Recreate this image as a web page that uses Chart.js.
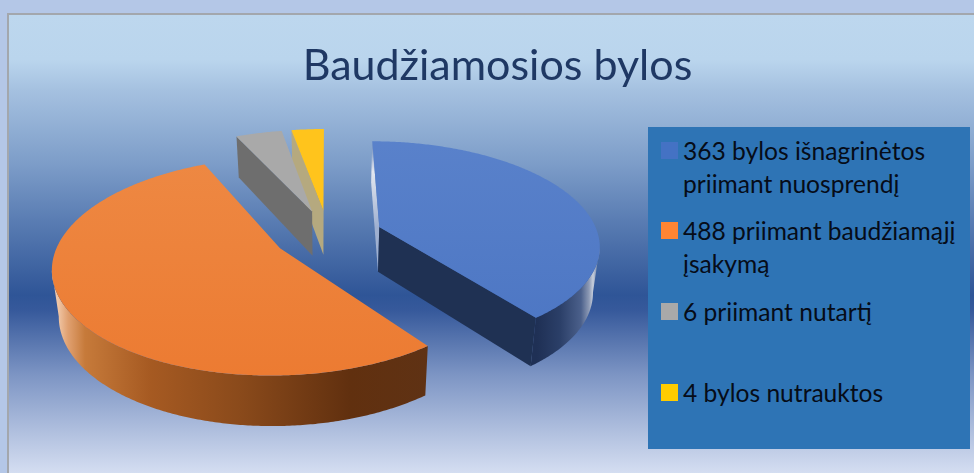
<!DOCTYPE html>
<html lang="lt">
<head>
<meta charset="utf-8">
<script src="https://cdn.jsdelivr.net/npm/chart.js@4"></script>
<style>
  html,body{margin:0;padding:0;width:974px;height:473px;overflow:hidden;background:#b4c7e7;}
  #panel{position:absolute;left:7px;top:13px;width:967px;height:460px;box-sizing:border-box;
    border-left:2px solid #a3a7ad;border-top:2px solid #a3a7ad;
    background:linear-gradient(180deg,#bdd7ee 0px,#bad5ed 45px,#a5c1e0 75px,#7c9cc8 150px,#5a7db3 205px,#2f5597 280px,#36599b 295px,#7d95c4 360px,#b3c2e0 420px,#d6dff2 460px);}
  canvas{position:absolute;left:0;top:0;}
  #legend{position:absolute;left:648px;top:127px;width:322px;height:322px;background:#2e74b5;
    font-family:Lato,"Open Sans",sans-serif;font-size:24.6px;line-height:32.5px;color:#060c18;}
  .row{position:absolute;left:35px;width:287px;}
  .sw{position:absolute;left:-22px;top:7px;width:17px;height:17px;}
</style>
</head>
<body>
<div id="panel"></div>
<canvas id="c" width="974" height="473"></canvas>
<div id="legend"></div>
<script>
const titleText = "Baudžiamosios bylos";
const categories = ["363 bylos išnagrinėtos priimant nuosprendį", "488 priimant baudžiamąjį įsakymą", "6 priimant nutartį", "4 bylos nutrauktos"];
const sliceValues = [363, 488, 37, 26];
const sliceColors = ["#4f79c6", "#ed8038", "#a9a9a9", "#ffc41c"];
const legendColors = ["#4472c4", "#ff8533", "#a9a9a9", "#ffcc00"];
const legendTops = [8, 88, 169, 250];
const explodePct = [25, 25, 25, 25];

const topShades = [["#5a82cb", "#4a74c2"], ["#ee8a45", "#ec7b32"], ["#a9a9a9", "#a9a9a9"], ["#ffc41c", "#ffc41c"]];
const wallStops = [
  [[537, "#1f3055"], [560, "#2b3f68"], [581, "#4b608b"], [589, "#8d9ab5"], [593, "#c6cedc"], [597, "#7c8fb0"]],
  [[58, "#f0c6a6"], [68, "#e0a070"], [85, "#c67a3a"], [150, "#a65a22"], [240, "#8a4a1b"], [350, "#61300f"], [429, "#5f3214"]],
  [[0, "#6e6e6e"], [974, "#6e6e6e"]],
  [[0, "#b5a97f"], [974, "#b5a97f"]]
];
const radialFaces = [
  {far: "#e4e8f0", near: "#1f3153"},
  {far: "#5f3214", near: "#5f3214"},
  {far: "#6e6e6e", near: "#6e6e6e"},
  {far: "#b5a97f", near: "#b5a97f"}
];

const cam = {x: 328, y: 235, a: 219, b: 101.9, k: 0.161};
function project(u, v, low) {
  const w = 1 - cam.k * v;
  let X = cam.a * u / w, Y = cam.y + cam.b * v / w;
  if (low) { X *= 0.975; Y += 20 + 25 / w; }
  return [cam.x + X, Y];
}

const pie3d = {
  id: "pie3d",
  beforeDatasetsDraw(chart) {
    const ctx = chart.ctx;
    const meta = chart.getDatasetMeta(0);
    const order = [3, 2, 0, 1];
    order.forEach(i => {
      const el = meta.data[i];
      const f = el.options.offset / 100;
      const s = el.startAngle, e = el.endAngle, mid = (s + e) / 2;
      const ox = Math.cos(mid) * f, oy = Math.sin(mid) * f;
      const rim = [];
      const n = Math.max(8, Math.ceil((e - s) / 0.01));
      for (let j = 0; j <= n; j++) {
        const t = s + (e - s) * j / n;
        rim.push([ox + Math.cos(t), oy + Math.sin(t)]);
      }
      const apex = [ox, oy];

      const face = (p, q) => {
        const a = project(p[0], p[1]), b = project(q[0], q[1]);
        if (b[0] >= a[0]) return;
        const a2 = project(p[0], p[1], true), b2 = project(q[0], q[1], true);
        const g = ctx.createLinearGradient(b[0], b[1], a[0], a[1]);
        if (i === 0 && q === rim[0]) {
          g.addColorStop(0, "#5f7fb5");
          g.addColorStop(0.35, radialFaces[i].far);
          g.addColorStop(1, "#9fb0d0");
        } else {
          g.addColorStop(0, radialFaces[i].near);
          g.addColorStop(1, radialFaces[i].near);
        }
        ctx.fillStyle = g;
        ctx.beginPath();
        ctx.moveTo(a[0], a[1]); ctx.lineTo(b[0], b[1]);
        ctx.lineTo(b2[0], b2[1]); ctx.lineTo(a2[0], a2[1]);
        ctx.closePath(); ctx.fill();
      };
      face(apex, rim[0]);
      face(rim[n], apex);

      const upper = [], lower = [];
      rim.forEach((p, j) => {
        if (j === n) return;
        const a = project(p[0], p[1]), b = project(rim[j + 1][0], rim[j + 1][1]);
        if (b[0] < a[0]) {
          if (!upper.length) { upper.push(a); lower.push(project(p[0], p[1], true)); }
          upper.push(b); lower.push(project(rim[j + 1][0], rim[j + 1][1], true));
        }
      });
      if (upper.length) {
        const st = wallStops[i], x0 = st[0][0], x1 = st[st.length - 1][0];
        const g = ctx.createLinearGradient(x0, 0, x1, 0);
        st.forEach(c => g.addColorStop((c[0] - x0) / (x1 - x0), c[1]));
        ctx.fillStyle = g;
        ctx.beginPath();
        upper.forEach((p, j) => j ? ctx.lineTo(p[0], p[1]) : ctx.moveTo(p[0], p[1]));
        lower.reverse().forEach(p => ctx.lineTo(p[0], p[1]));
        ctx.closePath(); ctx.fill();
      }

      const g = ctx.createLinearGradient(0, 130, 0, 375);
      g.addColorStop(0, topShades[i][0]);
      g.addColorStop(1, topShades[i][1]);
      ctx.fillStyle = g;
      ctx.beginPath();
      const A = project(apex[0], apex[1]);
      ctx.moveTo(A[0], A[1]);
      rim.forEach(p => { const q = project(p[0], p[1]); ctx.lineTo(q[0], q[1]); });
      ctx.closePath(); ctx.fill();
    });
    return false;
  }
};

new Chart(document.getElementById("c"), {
  type: "pie",
  data: {
    labels: categories,
    datasets: [{data: sliceValues, backgroundColor: sliceColors, offset: explodePct, borderWidth: 0}]
  },
  options: {
    responsive: false,
    animation: false,
    devicePixelRatio: 1,
    events: [],
    rotation: 0,
    layout: {padding: {left: 21, top: 0}},
    plugins: {
      legend: {display: false},
      tooltip: {enabled: false},
      title: {
        display: true, text: titleText, fullSize: false, color: "#1f3864",
        font: {family: "Lato, 'Open Sans', sans-serif", size: 43, weight: "normal"},
        padding: {top: 40, bottom: 8}
      }
    }
  },
  plugins: [pie3d]
});

const lg = document.getElementById("legend");
categories.forEach((txt, i) => {
  const r = document.createElement("div");
  r.className = "row";
  r.style.top = legendTops[i] + "px";
  const s = document.createElement("div");
  s.className = "sw";
  s.style.background = legendColors[i];
  r.appendChild(s);
  r.appendChild(document.createTextNode(txt));
  lg.appendChild(r);
});
</script>
</body>
</html>
